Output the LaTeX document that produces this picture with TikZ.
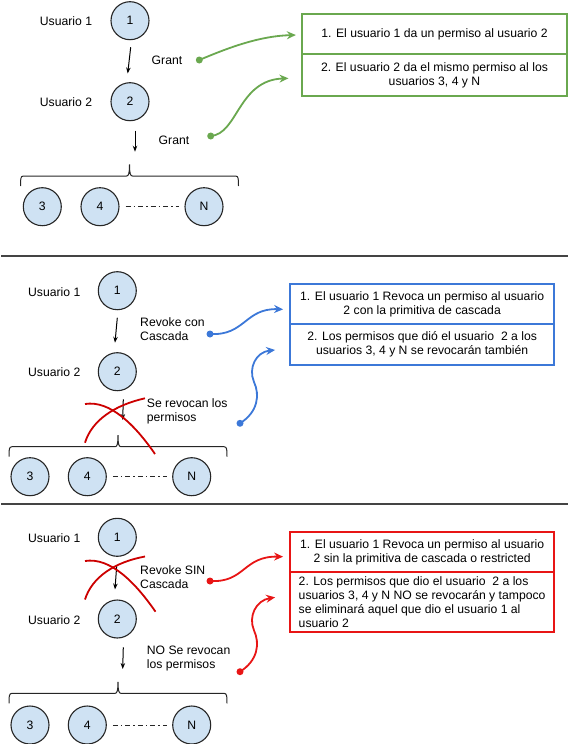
\documentclass[tikz,border=0pt]{standalone}
\usepackage{fontspec}
\setmainfont{Liberation Sans}
\usetikzlibrary{arrows.meta,calc}
\definecolor{cfill}{HTML}{CFE2F3}
\definecolor{ggreen}{HTML}{6AA84F}
\definecolor{gblue}{HTML}{3C78D8}
\definecolor{gred}{HTML}{E81515}
\definecolor{xred}{HTML}{CC0000}
\definecolor{sepgray}{HTML}{444444}
\begin{document}
\begin{tikzpicture}[x=1pt,y=-1pt,
  font=\fontsize{12.2}{14}\selectfont,
  user/.style={circle,draw=black!85,fill=cfill,line width=1.1pt,minimum size=38pt,inner sep=0pt},
  lbl/.style={inner sep=0pt,align=left,anchor=west},
  txt/.style={inner sep=0pt},
  varrow/.style={draw=black,line width=1pt,-{Stealth[length=6pt,width=4.5pt]}},
  dashdot/.style={draw=black!85,line width=0.9pt,dash pattern=on 5pt off 3pt on 1.5pt off 3pt,shorten <=6pt,shorten >=5pt},
  bx/.style={line width=1.8pt,minimum width=264.3pt,inner sep=0pt,align=center},
  crv/.style={line width=1.8pt,-{Stealth[length=9pt,width=8pt,inset=3pt]}},
  xcross/.style={draw=xred,line width=1.8pt},
  sepline/.style={draw=sepgray,line width=1.5pt},
  bracepic/.pic={\draw[black!85,line width=1pt]
     (-109,10) .. controls (-109,3) and (-109,0) .. (-106,0) -- (-3,0)
     .. controls (-1,0) and (0,-2) .. (0,-11.5)
     .. controls (0,-2) and (1,0) .. (3,0) -- (106,0)
     .. controls (109,0) and (109,3) .. (109,10);}
  ]
\useasboundingbox (0,0) rectangle (569,744);

% ---------------- separators ----------------
\coordinate (s1a) at (1,256); \coordinate (s1b) at (568,256);
\coordinate (s2a) at (1,504); \coordinate (s2b) at (568,504);
\draw[sepline] (s1a) -- (s1b);
\draw[sepline] (s2a) -- (s2b);

% ---------------- section 1: Grant ----------------
\node[txt] (ua1) at (66,20.7) {Usuario 1};
\node[user] (a1) at (130,20.7) {1};
\node[txt] (ua2) at (66,101.7) {Usuario 2};
\node[user] (a2) at (130,101.7) {2};
\coordinate (ab) at (129.5,176);
\pic at (ab) {bracepic};
\node[user] (a3) at (42.3,206.7) {3};
\node[user] (a4) at (100,206.7) {4};
\node[user] (aN) at (204,206.7) {N};
\draw[dashdot] (a4) -- (aN);
\draw[varrow] ($(a1.south)+(0.7,7)$) -- ($(a2.north)+(-2.3,-8.7)$);
\draw[varrow] ($(a2.south)+(5,9.3)$) -- ($(ab)+(5.5,-24.3)$);
\node[txt] (ga1) at (167,60) {Grant};
\node[txt] (ga2) at (174,140) {Grant};
\coordinate (gd1) at (199.3,60);
\coordinate (gd2) at (210.7,136);
\node[bx,draw=ggreen,minimum height=40pt] (gb1) at (434.5,34.3)
  {1. El usuario 1 da un permiso al usuario 2};
\node[bx,draw=ggreen,minimum height=41.4pt] (gb2) at (434.5,75)
  {2. El usuario 2 da el mismo permiso al los\\usuarios 3, 4 y N};
\draw[crv,ggreen] (gd1) .. controls (230,47) and (260,36) .. ($(gb1.west)+(-5.6,0.7)$);
\draw[crv,ggreen] (gd2) .. controls (238,134) and (238,80) .. ($(gb2.west)+(-13,3.3)$);
\fill[ggreen] (gd1) circle (3.5pt);
\fill[ggreen] (gd2) circle (3.5pt);

% ---------------- section 2: Revoke con Cascada ----------------
\node[txt] (ub1) at (54.2,291.7) {Usuario 1};
\node[user] (b1) at (117.3,290.7) {1};
\node[txt] (ub2) at (54.2,371.7) {Usuario 2};
\node[user] (b2) at (117.3,371.7) {2};
\coordinate (bbr) at (118,446.7);
\pic at (bbr) {bracepic};
\node[user] (b3) at (30,476.7) {3};
\node[user] (b4) at (87.3,476.7) {4};
\node[user] (bN) at (191.7,476.7) {N};
\draw[dashdot] (b4) -- (bN);
\draw[varrow] ($(b1.south)+(0,7.5)$) -- ($(b2.north)+(-2.3,-9.4)$);
\draw[varrow] ($(b2.south)+(6,8.1)$) -- ($(bbr)+(4.7,-26.7)$);
\node[lbl] (lb1) at (140,328.8) {Revoke con\\Cascada};
\node[lbl] (lb2) at (146.7,410.9) {Se revocan los\\permisos};
\draw[xcross] (85,404) .. controls (110,400) and (135,425) .. (155,454);
\draw[xcross] (85,442.7) .. controls (92,420) and (115,405) .. (145,398.3);
\coordinate (bd1) at (210,334);
\coordinate (bd2) at (240,423.3);
\node[bx,draw=gblue,minimum height=40.3pt] (bb1) at (422.15,304.15)
  {1. El usuario 1 Revoca un permiso al usuario\\2 con la primitiva de cascada};
\node[bx,draw=gblue,minimum height=40.7pt] (bb2) at (422.15,344.65)
  {2. Los permisos que dió el usuario~~2 a los\\usuarios 3, 4 y N se revocarán también};
\draw[crv,gblue] (bd1) .. controls (245,336) and (245,308) .. ($(bb1.west)+(-6,5.2)$);
\draw[crv,gblue] (bd2) .. controls (258,412) and (260,395) .. (254,382)
  .. controls (248,368) and (256,352) .. ($(bb2.west)+(-14,5.35)$);
\fill[gblue] (bd1) circle (3.5pt);
\fill[gblue] (bd2) circle (3.5pt);

% ---------------- section 3: Revoke SIN Cascada ----------------
\node[txt] (ud1) at (54.2,538.3) {Usuario 1};
\node[user] (d1) at (117.3,537.3) {1};
\node[txt] (ud2) at (54.2,620) {Usuario 2};
\node[user] (d2) at (117.3,619) {2};
\coordinate (dbr) at (118,693.3);
\pic at (dbr) {bracepic};
\node[user] (d3) at (30,725) {3};
\node[user] (d4) at (87.3,725) {4};
\node[user] (dN) at (191.7,725) {N};
\draw[dashdot] (d4) -- (dN);
\draw[varrow] ($(d1.south)+(-0.6,8.7)$) -- ($(d2.north)+(-2.3,-10)$);
\draw[varrow] ($(d2.south)+(6,8.7)$) -- ($(dbr)+(4.7,-24.3)$);
\node[lbl] (ld1) at (140,577.2) {Revoke SIN\\Cascada};
\node[lbl] (ld2) at (146.7,658) {NO Se revocan\\los permisos};
\draw[xcross] (85,561) .. controls (110,557) and (135,582) .. (155.5,611.7);
\draw[xcross] (85,599.5) .. controls (92,577) and (115,562) .. (145,556.5);
\coordinate (rd1) at (210,581);
\coordinate (rd2) at (240,671.7);
\node[bx,draw=gred,minimum height=40.6pt] (rb1) at (422.15,552)
  {1. El usuario 1 Revoca un permiso al usuario\\2 sin la primitiva de cascada o restricted};
\node[bx,draw=gred,minimum height=59.4pt,align=left] (rb2) at (422.15,602)
  {2. Los permisos que dio el usuario~~2 a los\\usuarios 3, 4 y N NO se revocarán y tampoco\\se eliminará aquel que dio el usuario 1 al\\usuario 2};
\draw[crv,gred] (rd1) .. controls (245,583) and (243,556) .. ($(rb1.west)+(-6,4.7)$);
\draw[crv,gred] (rd2) .. controls (258,660.4) and (260,643.4) .. (254,630.4)
  .. controls (248,616.4) and (256,600.4) .. ($(rb2.west)+(-14,-4.7)$);
\fill[gred] (rd1) circle (3.5pt);
\fill[gred] (rd2) circle (3.5pt);
\end{tikzpicture}
\end{document}
